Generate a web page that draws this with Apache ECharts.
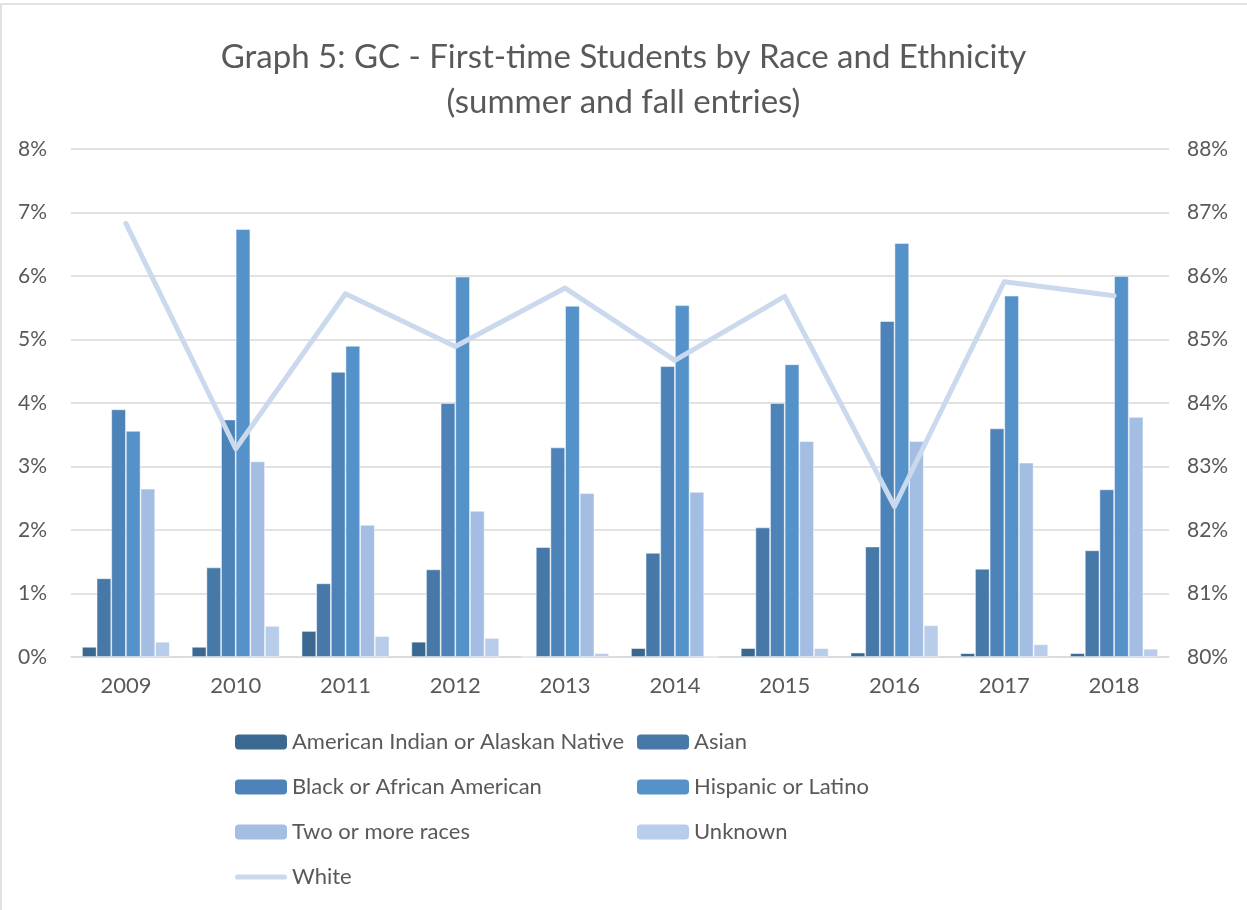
<!DOCTYPE html>
<html>
<head>
<meta charset="utf-8">
<script src="https://cdn.jsdelivr.net/npm/echarts@6/dist/echarts.min.js"></script>
<style>
  html, body { margin: 0; padding: 0; background: #fff; }
  #chart { width: 1247px; height: 910px; }
</style>
</head>
<body>
<div id="chart"></div>
<script>
// years on the x axis
var years = ['2009', '2010', '2011', '2012', '2013', '2014', '2015', '2016', '2017', '2018'];

// bar series, percent of first-time students (left axis)
var americanIndian = [0.16, 0.16, 0.41, 0.24, 0, 0.14, 0.14, 0.07, 0.06, 0.06];
var asian = [1.24, 1.41, 1.16, 1.38, 1.73, 1.64, 2.04, 1.74, 1.39, 1.68];
var black = [3.90, 3.74, 4.49, 4.00, 3.30, 4.58, 4.00, 5.29, 3.60, 2.64];
var hispanic = [3.56, 6.74, 4.90, 5.99, 5.53, 5.54, 4.61, 6.52, 5.69, 6.00];
var twoOrMore = [2.65, 3.08, 2.08, 2.30, 2.58, 2.60, 3.40, 3.40, 3.06, 3.78];
var unknown = [0.24, 0.49, 0.33, 0.30, 0.06, 0, 0.14, 0.50, 0.20, 0.13];

// line series (right axis)
var white = [86.83, 83.28, 85.72, 84.89, 85.81, 84.67, 85.68, 82.37, 85.91, 85.69];

var leftTicks = { min: 0, max: 8, interval: 1 };
var rightTicks = { min: 80, max: 88, interval: 1 };

var font = 'Lato, "Liberation Sans", sans-serif';
var grey = '#595959';
var lineIcon = 'path://M3,0 L57,0 A3,3 0 0 1 57,6 L3,6 A3,3 0 0 1 3,0 Z';

function bar(name, data, color) {
  return {
    name: name,
    type: 'bar',
    data: data,
    barGap: '0%',
    barCategoryGap: '20%',
    itemStyle: { color: color, borderColor: 'rgba(255,255,255,0.6)', borderWidth: 0.8 }
  };
}

function legendCol(left, names) {
  return {
    orient: 'vertical',
    left: left,
    top: 726,
    itemWidth: 52,
    itemHeight: 15,
    itemGap: 23,
    itemTextGap: 6,
    itemStyle: { borderWidth: 0 },
    textStyle: { fontFamily: font, fontSize: 22, color: grey },
    data: names
  };
}

var chart = echarts.init(document.getElementById('chart'));
chart.setOption({
  animation: false,
  backgroundColor: '#fff',
  title: {
    text: 'Graph 5: GC - First-time Students by Race and Ethnicity\n(summer and fall entries)',
    left: 'center',
    top: 30,
    textStyle: { fontFamily: font, fontSize: 33, fontWeight: 'normal', color: grey, lineHeight: 45 }
  },
  graphic: [{
    type: 'rect',
    shape: { x: 1, y: 4, width: 1250, height: 910 },
    style: { fill: 'none', stroke: '#d9d9d9', lineWidth: 1.5 },
    silent: true
  }],
  legend: [
    legendCol(230, ['American Indian or Alaskan Native', 'Black or African American', 'Two or more races',
      { name: 'White', icon: lineIcon, itemStyle: { color: '#cad9ed' } }]),
    legendCol(632, ['Asian', 'Hispanic or Latino', 'Unknown'])
  ],
  grid: { left: 71, right: 78, top: 149, bottom: 253, containLabel: false },
  xAxis: {
    type: 'category',
    data: years,
    axisTick: { show: false },
    axisLine: { lineStyle: { color: '#d9d9d9', width: 1.5 } },
    axisLabel: { fontFamily: font, fontSize: 22, color: grey, margin: 18 }
  },
  yAxis: [{
    type: 'value',
    min: leftTicks.min,
    max: leftTicks.max,
    interval: leftTicks.interval,
    axisLine: { show: false },
    axisTick: { show: false },
    axisLabel: { formatter: '{value}%', fontFamily: font, fontSize: 21, color: grey, margin: 24 },
    splitLine: { lineStyle: { color: '#d9d9d9', width: 1.5 } }
  }, {
    type: 'value',
    min: rightTicks.min,
    max: rightTicks.max,
    interval: rightTicks.interval,
    axisLine: { show: false },
    axisTick: { show: false },
    axisLabel: { formatter: '{value}%', fontFamily: font, fontSize: 21, color: grey, margin: 18 },
    splitLine: { show: false }
  }],
  series: [
    bar('American Indian or Alaskan Native', americanIndian, '#3b6891'),
    bar('Asian', asian, '#4678a8'),
    bar('Black or African American', black, '#4d83b8'),
    bar('Hispanic or Latino', hispanic, '#5592c9'),
    bar('Two or more races', twoOrMore, '#a3bee2'),
    bar('Unknown', unknown, '#b8cde9'),
    {
      name: 'White',
      type: 'line',
      yAxisIndex: 1,
      data: white,
      symbol: 'none',
      z: 5,
      lineStyle: { color: '#cad9ed', width: 5, cap: 'round', join: 'round' },
      itemStyle: { color: '#cad9ed' }
    }
  ]
});
</script>
</body>
</html>
